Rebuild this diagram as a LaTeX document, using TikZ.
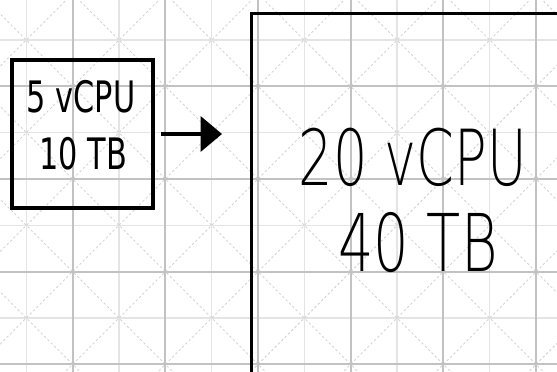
\documentclass[tikz,border=0pt]{standalone}
\usepackage{fontspec}
\newfontfamily\handfont[FakeStretch=0.7]{DejaVu Sans}
\newfontfamily\handthin[FakeStretch=0.7]{DejaVu Sans ExtraLight}
\definecolor{gridmajor}{RGB}{194, 194, 194}
\definecolor{gridminor}{RGB}{228, 228, 228}
\definecolor{griddiag}{RGB}{212, 212, 212}
\usetikzlibrary{arrows.meta, positioning}

\begin{document}
\begin{tikzpicture}[
  box/.style={draw=black, line width=2.8pt, inner sep=0pt},
  smalltext/.style={font=\handfont\fontsize{37}{40}\selectfont, inner sep=0pt},
  bigtext/.style={font=\handthin\fontsize{66}{70}\selectfont, inner sep=0pt}
]
  \useasboundingbox (0,0) rectangle (16.71,11.13);
  \clip (0,0) rectangle (16.71,11.13);

  % Squared paper with crossed diagonals
  \begin{scope}[shift={(2.18,8.54)}]
    \draw[gridminor, line width=1.1pt, step=1.39] (-3,-10) grid (15,3);
    \foreach \k in {-5,...,10} {
      \draw[griddiag, line width=0.8pt, dash pattern=on 2pt off 2pt] (\k*2.78-14,-14) -- ++(28,28);
      \draw[griddiag, line width=0.8pt, dash pattern=on 2pt off 2pt] (\k*2.78+14,-14) -- ++(-28,28);
    }
    \draw[gridmajor, line width=1.5pt, step=2.78] (-3,-10) grid (15,3);
  \end{scope}

  % Small machine
  \node[box, minimum width=4.23cm, minimum height=4.44cm] (small) at (2.475,7.11) {};
  \node[smalltext] (cpusmall) at (2.43,8.22) {5 vCPU};
  \node[smalltext, font=\handfont\fontsize{37}{40}\selectfont] (disksmall) at (2.5,6.51) {10 TB};

  % Large machine, runs off the page
  \node[box, minimum width=12cm, minimum height=14cm, anchor=north west] (large) at (7.5,10.77) {};
  \node[bigtext] (cpularge) at (12.39,6.42) {20 vCPU};
  \node[bigtext, font=\handthin\fontsize{68}{72}\selectfont] (disklarge) at (12.54,3.84) {40 TB};

  % Scale up
  \draw[line width=2.8pt, -{Triangle[length=0.64cm, width=1.05cm]}, shorten <=0.2cm, shorten >=0.84cm]
    (small.east) -- (small.east -| large.west);
\end{tikzpicture}
\end{document}
